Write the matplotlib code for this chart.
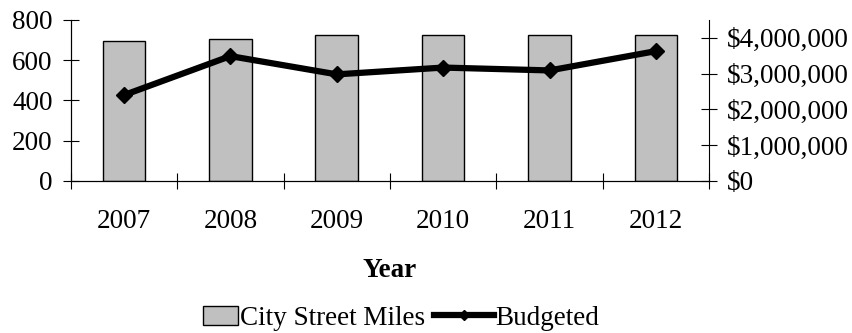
import matplotlib.pyplot as plt
from matplotlib.legend_handler import HandlerLine2D, HandlerPatch
from matplotlib.patches import Rectangle
from matplotlib.ticker import FuncFormatter

plt.rcParams['font.family'] = ['Liberation Serif', 'DejaVu Serif']

years = ['2007', '2008', '2009', '2010', '2011', '2012']
street_miles = [695, 705, 724, 724, 724, 724]
budgeted = [2400000, 3490000, 2980000, 3170000, 3090000, 3630000]

fs = 19.5
x = list(range(len(years)))

fig = plt.figure(figsize=(8.53, 3.33), dpi=100)
ax = fig.add_axes([0.0829, 0.4565, 0.7486, 0.4835])
ax2 = ax.twinx()

bars = ax.bar(x, street_miles, width=0.4, color='#C0C0C0', edgecolor='black',
              linewidth=1.0, label='City Street Miles')
line, = ax2.plot(x, budgeted, color='black', linewidth=4.5, marker='D',
                 markersize=8, label='Budgeted')

ax.set_xlim(-0.5, len(years) - 0.5)
ax.set_ylim(0, 800)
ax.set_yticks([0, 200, 400, 600, 800])
ax2.set_ylim(0, 4500000)
ax2.set_yticks([0, 1000000, 2000000, 3000000, 4000000])
ax2.yaxis.set_major_formatter(FuncFormatter(lambda v, p: f'${v:,.0f}'))

# category boundaries carry the tick marks, centers carry the year labels
ax.set_xticks([i - 0.5 for i in range(len(years) + 1)])
ax.set_xticklabels([])
ax.set_xticks(x, minor=True)
ax.set_xticklabels(years, minor=True)
ax.tick_params(axis='x', which='major', direction='inout', length=11, width=0.8)
ax.tick_params(axis='x', which='minor', length=0, pad=20.5, labelsize=fs)
ax.tick_params(axis='y', direction='inout', length=12, width=0.8, pad=7, labelsize=fs)
ax2.tick_params(axis='y', direction='inout', length=12, width=0.8, pad=7, labelsize=fs)

for a in (ax, ax2):
    a.spines['top'].set_visible(False)
    for s in a.spines.values():
        s.set_linewidth(0.8)
ax.spines['right'].set_visible(False)

ax.set_xlabel('Year', fontsize=fs, fontweight='bold', labelpad=17)


def small_box(legend, orig_handle, xdescent, ydescent, width, height, fontsize):
    w = width * 0.6
    return Rectangle((width - w - xdescent, -ydescent), w, height)


def small_marker(leg_line, orig):
    leg_line.update_from(orig)
    leg_line.set_markersize(5.5)


bar_handle = bars.patches[0]
leg = fig.legend([bar_handle, line], ['City Street Miles', 'Budgeted'],
                 loc='center', bbox_to_anchor=(0.456, 0.045), ncol=2, frameon=False,
                 fontsize=fs, handlelength=2.2, handletextpad=0.05, columnspacing=0.35,
                 numpoints=1,
                 handler_map={bar_handle: HandlerPatch(patch_func=small_box),
                              line: HandlerLine2D(update_func=small_marker)})

fig.savefig('out.png', dpi=100)
